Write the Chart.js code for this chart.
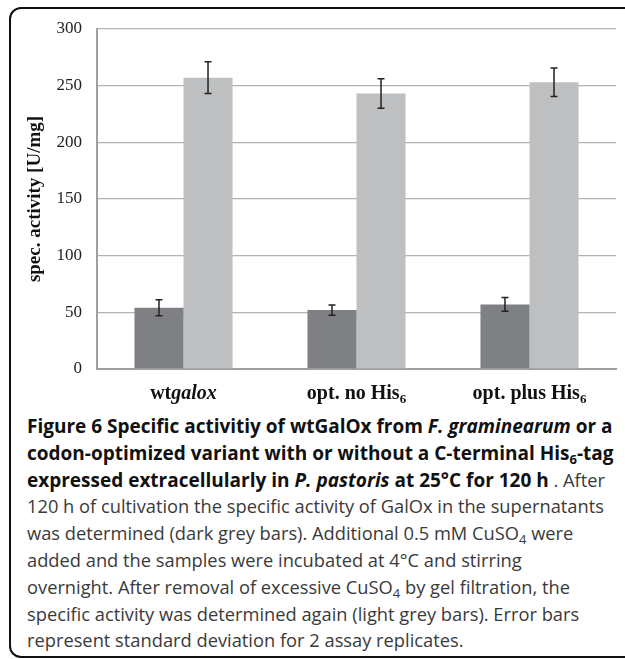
<!DOCTYPE html>
<html>
<head>
<meta charset="utf-8">
<script src="https://cdn.jsdelivr.net/npm/chart.js@4"></script>
<style>
  html, body { margin: 0; padding: 0; background: #fff; overflow: hidden; }
  body { width: 625px; height: 659px; position: relative; }
  #frame {
    position: absolute; left: 9px; top: 7px; width: 700px; height: 651px;
    border: 2px solid #111; border-radius: 12px; box-sizing: border-box;
  }
  #wrap { position: absolute; left: 0; top: 0; width: 625px; height: 405px; }
  #caption {
    position: absolute; left: 27px; top: 413px;
    font-family: "Open Sans", sans-serif; font-size: 18.3px; line-height: 26.8px;
    color: #3a3a3a; white-space: nowrap;
  }
  #caption b { color: #111; font-size: 19px; }
  #caption sub { font-size: 13px; vertical-align: -4px; line-height: 0; }
</style>
</head>
<body>
<div id="frame"></div>
<div id="wrap"><canvas id="chart"></canvas></div>
<div id="caption">
<b>Figure 6 Specific activitiy of wtGalOx from <i>F. graminearum</i> or a</b><br>
<b>codon-optimized variant with or without a C-terminal His<sub>6</sub>-tag</b><br>
<b>expressed extracellularly in <i>P. pastoris</i> at 25°C for 120 h</b> . After<br>
120 h of cultivation the specific activity of GalOx in the supernatants<br>
was determined (dark grey bars). Additional 0.5 mM CuSO<sub>4</sub> were<br>
added and the samples were incubated at 4°C and stirring<br>
overnight. After removal of excessive CuSO<sub>4</sub> by gel filtration, the<br>
specific activity was determined again (light grey bars). Error bars<br>
represent standard deviation for 2 assay replicates.
</div>
<script>
// categories and values
const categories = ["wtgalox", "opt. no His6", "opt. plus His6"];
const beforeCu = [54, 52, 57];
const beforeCuErr = [7, 4.5, 6];
const afterCu = [257, 243, 253];
const afterCuErr = [14, 13, 12.5];

// rich tick labels: [text, style] pieces
const labelParts = [
  [["wt", "b"], ["galox", "bi"]],
  [["opt. no His", "b"], ["6", "sub"]],
  [["opt. plus His", "b"], ["6", "sub"]]
];

const errorBars = {
  id: "errorBars",
  afterDatasetsDraw(chart) {
    const ctx = chart.ctx;
    const y = chart.scales.y;
    const errs = [beforeCuErr, afterCuErr];
    ctx.save();
    ctx.strokeStyle = "#222";
    ctx.lineWidth = 1.5;
    chart.data.datasets.forEach((ds, di) => {
      const meta = chart.getDatasetMeta(di);
      meta.data.forEach((bar, i) => {
        const v = ds.data[i], e = errs[di][i];
        const top = y.getPixelForValue(v + e);
        const bot = y.getPixelForValue(v - e);
        ctx.beginPath();
        ctx.moveTo(bar.x, top); ctx.lineTo(bar.x, bot);
        ctx.moveTo(bar.x - 3.5, top); ctx.lineTo(bar.x + 3.5, top);
        ctx.moveTo(bar.x - 3.5, bot); ctx.lineTo(bar.x + 3.5, bot);
        ctx.stroke();
      });
    });
    ctx.restore();
  }
};

const richLabels = {
  id: "richLabels",
  afterDraw(chart) {
    const ctx = chart.ctx;
    const x = chart.scales.x;
    const fam = '"Liberation Serif", "Times New Roman", serif';
    const fontFor = s => s === "bi" ? "italic bold 20px " + fam
      : s === "sub" ? "bold 13px " + fam : "bold 20px " + fam;
    ctx.save();
    ctx.fillStyle = "#111";
    ctx.textBaseline = "alphabetic";
    labelParts.forEach((parts, i) => {
      let w = 0;
      parts.forEach(p => { ctx.font = fontFor(p[1]); w += ctx.measureText(p[0]).width; });
      let cx = x.getPixelForValue(i) - w / 2;
      const base = 399;
      parts.forEach(p => {
        ctx.font = fontFor(p[1]);
        ctx.fillText(p[0], cx, p[1] === "sub" ? base + 4 : base);
        cx += ctx.measureText(p[0]).width;
      });
    });
    ctx.restore();
  }
};

new Chart(document.getElementById("chart"), {
  type: "bar",
  data: {
    labels: categories,
    datasets: [
      { label: "before CuSO4", data: beforeCu, backgroundColor: "#7f8084" },
      { label: "after CuSO4", data: afterCu, backgroundColor: "#bebfc1" }
    ]
  },
  options: {
    responsive: true,
    maintainAspectRatio: false,
    animation: false,
    layout: { padding: { top: 29, right: 9, left: 0, bottom: 0 } },
    plugins: { legend: { display: false }, tooltip: { enabled: false } },
    datasets: { bar: { categoryPercentage: 0.567, barPercentage: 1 } },
    scales: {
      x: {
        grid: { display: false },
        border: { color: "#a0a0a0", width: 2 },
        ticks: { color: "transparent", font: { size: 17 } },
        afterFit: s => { s.height = 36; }
      },
      y: {
        min: 0, max: 300,
        ticks: {
          stepSize: 50, padding: 15, color: "#222",
          font: { family: '"Liberation Serif", serif', size: 17 }
        },
        grid: { color: "#b3b3b3", lineWidth: 1.3, drawTicks: false },
        border: { color: "#a0a0a0", width: 2 },
        title: {
          display: true, text: "spec. activity [U/mg]", color: "#111",
          font: { family: '"Liberation Serif", serif', size: 19, weight: "bold" },
          padding: { top: 24, bottom: 0 }
        },
        afterFit: s => { s.width = 97; }
      }
    }
  },
  plugins: [errorBars, richLabels]
});
</script>
</body>
</html>
